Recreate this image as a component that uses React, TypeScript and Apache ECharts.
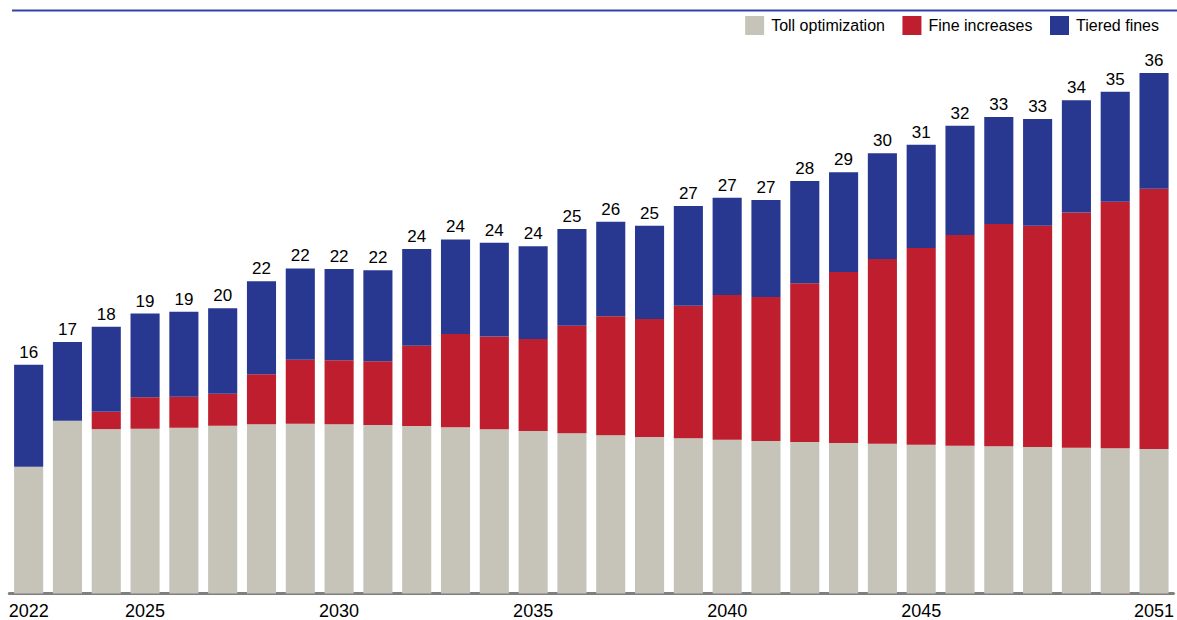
import React, { useEffect, useRef } from "react";
import * as echarts from "echarts";

const years = [
  "2022", "2023", "2024", "2025", "2026", "2027", "2028", "2029", "2030", "2031",
  "2032", "2033", "2034", "2035", "2036", "2037", "2038", "2039", "2040", "2041",
  "2042", "2043", "2044", "2045", "2046", "2047", "2048", "2049", "2050", "2051",
];
const shownYears = ["2022", "2025", "2030", "2035", "2040", "2045", "2051"];

const tollOptimization = [
  8.74, 11.92, 11.34, 11.37, 11.43, 11.57, 11.67, 11.71, 11.67, 11.62,
  11.55, 11.46, 11.32, 11.21, 11.05, 10.91, 10.79, 10.7, 10.61, 10.52,
  10.45, 10.38, 10.33, 10.26, 10.19, 10.15, 10.1, 10.06, 10.01, 9.97,
];
const fineIncreases = [
  0, 0, 1.19, 2.17, 2.14, 2.21, 3.45, 4.41, 4.41, 4.39,
  5.54, 6.43, 6.41, 6.34, 7.42, 8.21, 8.14, 9.14, 9.98, 9.93,
  10.94, 11.79, 12.74, 13.57, 14.53, 15.33, 15.26, 16.21, 17.01, 17.95,
];
const tieredFines = [
  7.03, 5.43, 5.86, 5.77, 5.86, 5.89, 6.41, 6.3, 6.3, 6.28,
  6.67, 6.53, 6.46, 6.39, 6.67, 6.52, 6.43, 6.88, 6.71, 6.69,
  7.06, 6.88, 7.29, 7.12, 7.54, 7.38, 7.36, 7.75, 7.59, 7.98,
];
const totalLabels = [
  "16", "17", "18", "19", "19", "20", "22", "22", "22", "22",
  "24", "24", "24", "24", "25", "26", "25", "27", "27", "27",
  "28", "29", "30", "31", "32", "33", "33", "34", "35", "36",
];

const FONT = "'Liberation Sans', Arial, Helvetica, sans-serif";
const GRAY = "#C6C4B8";
const RED = "#BE1E2D";
const BLUE = "#283891";

export default function App() {
  const ref = useRef<HTMLDivElement>(null);

  useEffect(() => {
    if (!ref.current) return;
    const chart = echarts.init(ref.current, undefined, { renderer: "svg" });
    chart.setOption({
      animation: false,
      backgroundColor: "#ffffff",
      textStyle: { fontFamily: FONT },
      legend: {
        data: ["Toll optimization", "Fine increases", "Tiered fines"],
        right: 18,
        top: 16,
        padding: 0,
        icon: "rect",
        itemWidth: 19,
        itemHeight: 19,
        itemGap: 17.5,
        textStyle: {
          fontFamily: FONT,
          fontSize: 16,
          color: "#000",
          padding: [0, 0, 0, 2],
        },
      },
      graphic: [
        {
          type: "line",
          shape: { x1: 12, y1: 10.5, x2: 1177, y2: 10.5 },
          style: { stroke: "#3343A3", lineWidth: 2 },
        },
      ],
      grid: { left: 9.25, right: 0.75, top: 13.5, bottom: 26.5 },
      xAxis: {
        type: "category",
        data: years,
        offset: 2,
        axisLine: { show: true, lineStyle: { color: "#7F7F7F", width: 3 } },
        axisTick: { show: false },
        axisLabel: {
          interval: (index: number, value: string) => shownYears.includes(value),
          fontFamily: FONT,
          fontSize: 18,
          color: "#000",
          margin: 6,
        },
      },
      yAxis: { type: "value", min: 0, max: 40, show: false },
      series: [
        {
          name: "Toll optimization",
          type: "bar",
          stack: "total",
          barCategoryGap: "25%",
          itemStyle: { color: GRAY },
          data: tollOptimization,
        },
        {
          name: "Fine increases",
          type: "bar",
          stack: "total",
          barCategoryGap: "25%",
          itemStyle: { color: RED },
          data: fineIncreases,
        },
        {
          name: "Tiered fines",
          type: "bar",
          stack: "total",
          barCategoryGap: "25%",
          itemStyle: { color: BLUE },
          data: tieredFines,
          label: {
            show: true,
            position: "top",
            distance: 4,
            fontFamily: FONT,
            fontSize: 17,
            color: "#000",
            formatter: (p: any) => totalLabels[p.dataIndex],
          },
        },
      ],
    });
    return () => chart.dispose();
  }, []);

  return (
    <div
      ref={ref}
      style={{ position: "fixed", left: 0, top: 0, width: 1177, height: 620 }}
    />
  );
}
